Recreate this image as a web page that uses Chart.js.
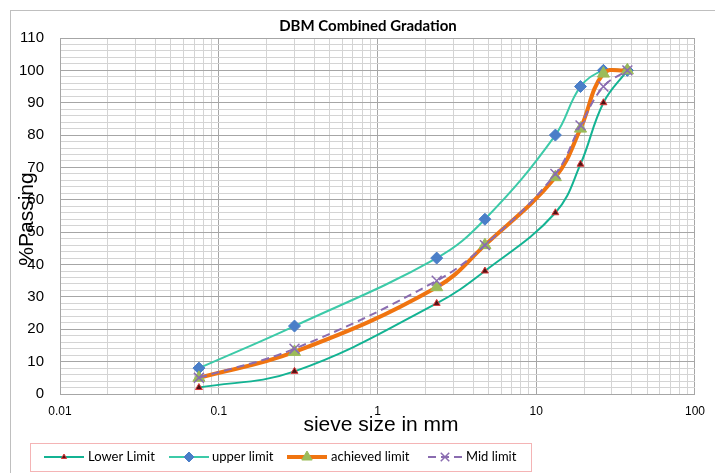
<!DOCTYPE html>
<html>
<head>
<meta charset="utf-8">
<script src="https://cdn.jsdelivr.net/npm/chart.js@4.4.1/dist/chart.umd.min.js"></script>
<style>
  html, body { margin: 0; padding: 0; background: #ffffff; }
  #wrap { width: 715px; height: 473px; }
</style>
</head>
<body>
<div id="wrap"><canvas id="gradationChart" width="715" height="473"></canvas></div>
<script>
// sieve sizes (mm) and % passing
const sieveSizes = [0.075, 0.3, 2.36, 4.75, 13.2, 19, 26.5, 37.5];
const lowerLimit = [2, 7, 28, 38, 56, 71, 90, 100];
const upperLimit = [8, 21, 42, 54, 80, 95, 100, 100];
const achievedLimit = [5, 13, 33, 46, 67, 82, 99, 100];
const midLimit = [5, 14, 35, 46, 68, 83, 95, 100];

const xTickLabels = [0.01, 0.1, 1, 10, 100];
const yTickLabels = [0, 10, 20, 30, 40, 50, 60, 70, 80, 90, 100, 110];

const toPoints = (vals) => sieveSizes.map((s, i) => ({ x: s, y: vals[i] }));

const isDecade = (v) => Math.abs(Math.log10(v) - Math.round(Math.log10(v))) < 1e-9;

// marker used in the legend, same style as the dataset's points
function drawMarker(ctx, d, x, y) {
    ctx.fillStyle = d.pointBackgroundColor;
    ctx.strokeStyle = d.pointBorderColor;
    ctx.lineWidth = d.pointBorderWidth;
    Chart.helpers.drawPoint(ctx, {
        pointStyle: d.pointStyle,
        radius: Math.max(3, d.pointRadius - 1),
        rotation: d.pointRotation || 0,
        borderWidth: d.pointBorderWidth
    }, x, y);
}

// Outer frame, title, axis titles and the boxed legend
const decorPlugin = {
    id: 'decor',
    beforeDraw(chart) {
        const ctx = chart.ctx;
        ctx.save();
        ctx.strokeStyle = '#bfbfbf';
        ctx.lineWidth = 1;
        ctx.strokeRect(10.5, 10.5, 900, 900);
        ctx.restore();
    },
    afterDraw(chart) {
        const ctx = chart.ctx;
        ctx.save();
        ctx.fillStyle = '#000000';
        ctx.textAlign = 'center';
        ctx.textBaseline = 'middle';
        ctx.font = 'bold 15px Lato, "Open Sans", sans-serif';
        ctx.fillText('DBM Combined Gradation', 368, 26);

        ctx.font = '21px "Liberation Sans", Arial, sans-serif';
        ctx.fillText('sieve size in mm', 381, 425);

        ctx.translate(27, 219);
        ctx.rotate(-Math.PI / 2);
        ctx.fillText('%Passing', 0, 0);
        ctx.restore();

        // legend box
        ctx.save();
        ctx.strokeStyle = '#e8686a';
        ctx.lineWidth = 1;
        ctx.setLineDash([1, 1]);
        ctx.strokeRect(30.5, 443.5, 501, 28);
        ctx.setLineDash([]);

        const items = [
            { ds: 0, x0: 44, x1: 84, tx: 88 },
            { ds: 1, x0: 169, x1: 209, tx: 212 },
            { ds: 2, x0: 287, x1: 327, tx: 331 },
            { ds: 3, x0: 428, x1: 462, tx: 466 }
        ];
        const ly = 457;
        items.forEach(it => {
            const d = chart.data.datasets[it.ds];
            ctx.strokeStyle = d.borderColor;
            ctx.lineWidth = d.borderWidth;
            ctx.setLineDash(d.borderDash || []);
            ctx.beginPath();
            ctx.moveTo(it.x0, ly);
            ctx.lineTo(it.x1, ly);
            ctx.stroke();
            ctx.setLineDash([]);
            drawMarker(ctx, d, (it.x0 + it.x1) / 2, ly);
            ctx.fillStyle = '#000000';
            ctx.font = '13px Lato, "Open Sans", sans-serif';
            ctx.textAlign = 'left';
            ctx.textBaseline = 'middle';
            ctx.fillText(d.label, it.tx, ly);
        });
        ctx.restore();
    }
};

new Chart(document.getElementById('gradationChart').getContext('2d'), {
    type: 'line',
    data: {
        datasets: [
            {
                label: 'Lower Limit',
                data: toPoints(lowerLimit),
                borderColor: '#13b393',
                borderWidth: 2,
                pointStyle: 'triangle',
                pointRadius: 4,
                pointBackgroundColor: '#4a1414',
                pointBorderColor: '#d9383a',
                pointBorderWidth: 1,
                tension: 0.4,
                order: 3
            },
            {
                label: 'upper limit',
                data: toPoints(upperLimit),
                borderColor: '#3ccaa8',
                borderWidth: 2,
                pointStyle: 'rectRot',
                pointRadius: 6,
                pointBackgroundColor: '#4a7ec8',
                pointBorderColor: '#4a7ec8',
                pointBorderWidth: 1,
                tension: 0.4,
                order: 2
            },
            {
                label: 'achieved limit',
                data: toPoints(achievedLimit),
                borderColor: '#f07410',
                borderWidth: 4,
                pointStyle: 'triangle',
                pointRadius: 7,
                pointBackgroundColor: '#9bbb59',
                pointBorderColor: '#9bbb59',
                pointBorderWidth: 1,
                tension: 0.4,
                order: 1
            },
            {
                label: 'Mid limit',
                data: toPoints(midLimit),
                borderColor: '#8a6cb0',
                borderWidth: 2,
                borderDash: [8, 5],
                pointStyle: 'cross',
                pointRotation: 45,
                pointRadius: 7,
                pointBackgroundColor: '#8a6cb0',
                pointBorderColor: '#8a6cb0',
                pointBorderWidth: 1.5,
                tension: 0.4,
                order: 0
            }
        ]
    },
    options: {
        responsive: false,
        animation: false,
        layout: { padding: { left: 0, right: 12, top: 38, bottom: 0 } },
        plugins: {
            legend: { display: false },
            title: { display: false },
            tooltip: { enabled: false }
        },
        scales: {
            x: {
                type: 'logarithmic',
                min: 0.01,
                max: 100,
                afterBuildTicks: (scale) => {
                    const t = [];
                    for (let e = -2; e <= 1; e++) {
                        for (let k = 1; k <= 9; k++) {
                            t.push({ value: Number((k * Math.pow(10, e)).toPrecision(3)) });
                        }
                    }
                    t.push({ value: 100 });
                    scale.ticks = t;
                },
                afterFit: (scale) => { scale.height = 79; },
                border: { color: '#a6a6a6' },
                grid: {
                    drawTicks: false,
                    color: (c) => (c.tick && isDecade(c.tick.value)) ? '#a6a6a6' : '#d4d4d4',
                    lineWidth: 1
                },
                ticks: {
                    autoSkip: false,
                    maxRotation: 0,
                    padding: 10,
                    color: '#000000',
                    font: { family: '"Liberation Sans", Arial, sans-serif', size: 12 },
                    callback: (v) => {
                        const hit = xTickLabels.find(l => Math.abs(l - v) < 1e-9);
                        return hit !== undefined ? String(hit) : '';
                    }
                }
            },
            y: {
                min: 0,
                max: 110,
                afterFit: (scale) => { scale.width = 60; },
                border: { color: '#a6a6a6' },
                grid: {
                    drawTicks: false,
                    color: (c) => (c.tick && c.tick.value % 10 === 0) ? '#a6a6a6' : '#d4d4d4',
                    lineWidth: 1
                },
                ticks: {
                    stepSize: 2,
                    autoSkip: false,
                    padding: 16,
                    color: '#000000',
                    font: { family: '"Liberation Sans", Arial, sans-serif', size: 15 },
                    callback: (v) => yTickLabels.includes(v) ? String(v) : ''
                }
            }
        }
    },
    plugins: [decorPlugin]
});
</script>
</body>
</html>
